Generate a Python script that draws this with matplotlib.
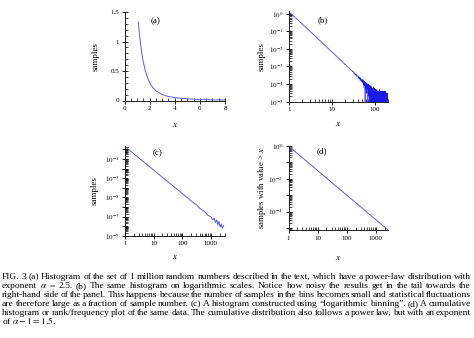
"""
Power-law histogram figure: (a) linear histogram, (b) log-log histogram,
(c) logarithmic binning, (d) cumulative distribution, plus caption.
"""

import numpy as np
import matplotlib
matplotlib.use("Agg")
import matplotlib.pyplot as plt
from matplotlib.ticker import MultipleLocator, LogLocator, NullFormatter

plt.rcParams["font.family"] = "serif"
plt.rcParams["font.serif"] = ["Liberation Serif"]
plt.rcParams["mathtext.fontset"] = "stix"

W, H = 474, 338
LINE_COLOR = "#5a5ae6"
NOISE_COLOR = "#1a1ae6"

# ── (a) histogram, linear scales ─────────────────────────────────────────────
A_X = [1.1, 1.2, 1.3, 1.4, 1.5, 1.65, 1.8, 2.0, 2.25, 2.5, 3.0, 3.5, 4.0, 5.0, 6.0, 7.0, 8.0]
A_Y = [1.33, 1.10, 0.92, 0.77, 0.65, 0.51, 0.41, 0.30, 0.22, 0.165, 0.10, 0.068, 0.048,
       0.027, 0.017, 0.011, 0.008]

# ── (b) same histogram, log scales ───────────────────────────────────────────
B_SMOOTH_X = [1, 1.5, 2, 3, 4, 6, 8, 10, 12, 15, 19]
B_SMOOTH_Y = [1.25, 0.523, 0.270, 0.106, 0.0548, 0.0216, 0.0111, 0.00667, 0.00438,
              0.00262, 0.00149]
# noisy tail: bin counts (units of 1e-5) from x = 20 to x = 200, one per unit of x
B_TAIL_START, B_TAIL_END = 20, 200
B_TAIL_COUNTS = [
    131, 126, 104, 101, 86, 84, 70, 71, 59, 60,
    49, 55, 40, 45, 33, 39, 30, 36, 26, 31,
    30, 21, 27, 19, 25, 16, 23, 15, 20, 13,
    19, 12, 18, 9, 17, 6, 15, 8, 14, 0,
    13, 5, 12, 7, 3, 11, 6, 10, 0, 9,
    4, 10, 2, 8, 5, 0, 9, 3, 7, 1,
    8, 4, 0, 7, 2, 6, 3, 0, 6, 1,
    5, 2, 7, 0, 4, 1, 6, 0, 3, 5,
    0, 4, 1, 5, 2, 0, 4, 1, 3, 0,
    5, 1, 3, 0, 4, 2, 0, 3, 1, 4,
    0, 2, 4, 0, 1, 3, 0, 5, 1, 2,
    0, 3, 1, 4, 0, 2, 0, 3, 1, 0,
    4, 1, 2, 0, 3, 0, 1, 4, 0, 2,
    1, 3, 0, 2, 0, 4, 1, 0, 3, 0,
    2, 0, 3, 1, 0, 4, 0, 2, 1, 0,
    3, 0, 1, 2, 0, 3, 0, 1, 4, 0,
    2, 0, 1, 3, 0, 2, 0, 1, 0, 3,
    0, 2, 1, 0, 3, 0, 1, 2, 0, 3,
    1,
]
B_UNIT = 1e-5

# ── (c) logarithmic binning ──────────────────────────────────────────────────
C_X = [1, 2, 4, 8, 16, 32, 64, 128, 256, 320, 400, 500, 640, 800, 1000, 1150, 1300,
       1450, 1600, 1750, 1900, 2100, 2300, 2500, 2800]
C_Y = [2.0, 0.366, 0.067, 0.0123, 2.25e-3, 4.1e-4, 7.5e-5, 1.38e-5, 2.5e-6, 1.6e-6,
       7.6e-7, 4.9e-7, 2.7e-7, 1.3e-7, 9.5e-8, 4.5e-8, 6.5e-8, 2.3e-8, 4.5e-8, 1.3e-8,
       3.2e-8, 8e-9, 1.7e-8, 6e-9, 1.1e-8]

# ── (d) cumulative distribution ──────────────────────────────────────────────
D_X = [1, 3, 10, 30, 100, 300, 1000, 2600]
D_Y = [1.0, 0.192, 0.0316, 6.09e-3, 1.0e-3, 1.92e-4, 3.16e-5, 7.5e-6]

CAPTION_LINES = [
    "FIG. 3 (a) Histogram of the set of 1 million random numbers described in the text, which have a power-law distribution with",
    "exponent $\\alpha$ = 2.5. (b) The same histogram on logarithmic scales. Notice how noisy the results get in the tail towards the",
    "right-hand side of the panel. This happens because the number of samples in the bins becomes small and statistical fluctuations",
    "are therefore large as a fraction of sample number. (c) A histogram constructed using \u201clogarithmic binning\u201d. (d) A cumulative",
    "histogram or rank/frequency plot of the same data. The cumulative distribution also follows a power law, but with an exponent",
    "of $\\alpha - 1 = 1.5$.",
]

fig = plt.figure(figsize=(W / 100, H / 100), dpi=100)


def px_axes(left, top, right, bottom):
    return fig.add_axes([left / W, 1 - bottom / H, (right - left) / W, (bottom - top) / H])


def style(ax):
    for s in ("top", "right"):
        ax.spines[s].set_visible(False)
    for s in ("left", "bottom"):
        ax.spines[s].set_linewidth(0.6)
    ax.tick_params(which="major", direction="inout", length=4, width=0.6, labelsize=5, pad=2)
    ax.tick_params(which="minor", direction="in", length=2, width=0.5)


def log_minor(axis):
    axis.set_minor_locator(LogLocator(base=10, subs=np.arange(2, 10), numticks=100))
    axis.set_minor_formatter(NullFormatter())


def pow_labels(exps, show=None):
    return [f"$10^{{{e}}}$" if (show is None or e in show) else "" for e in exps]


# ── Panel (a) ────────────────────────────────────────────────────────────────
ax_a = px_axes(124.5, 12, 225, 100.5)
ax_a.plot(A_X, A_Y, color=LINE_COLOR, lw=0.7)
ax_a.set_xlim(0, 8)
ax_a.set_ylim(0, 1.5)
ax_a.set_xticks([0, 2, 4, 6, 8], ["0", "2", "4", "6", "8"])
ax_a.set_yticks([0, 0.5, 1, 1.5], ["0", "0.5", "1", "1.5"])
ax_a.xaxis.set_minor_locator(MultipleLocator(0.5))
ax_a.yaxis.set_minor_locator(MultipleLocator(0.1))
style(ax_a)
ax_a.set_xlabel("$x$", fontsize=6.5, va="center")
ax_a.set_ylabel("samples", fontsize=6.5, va="center")
ax_a.xaxis.set_label_coords(0.5, -0.277)
ax_a.yaxis.set_label_coords(-0.29, 0.5)
ax_a.text(0.31, 0.90, "(a)", transform=ax_a.transAxes, fontsize=6.5, ha="center", va="center")

# ── Panel (b) ────────────────────────────────────────────────────────────────
ax_b = px_axes(289, 10.6, 388, 101.7)
ax_b.set_xscale("log")
ax_b.set_yscale("log", nonpositive="clip")
tail_x = np.linspace(B_TAIL_START, B_TAIL_END, len(B_TAIL_COUNTS))
tail_y = np.array(B_TAIL_COUNTS) * B_UNIT
ax_b.plot(B_SMOOTH_X + [B_TAIL_START], B_SMOOTH_Y + [tail_y[0]], color=LINE_COLOR, lw=0.7)
ax_b.plot(tail_x, tail_y, color=NOISE_COLOR, lw=0.4)
ax_b.set_xlim(1, 200)
ax_b.set_ylim(1e-5, 1.5)
ax_b.set_xticks([1, 10, 100], ["1", "10", "100"])
b_exps = [0, -1, -2, -3, -4, -5]
ax_b.set_yticks([10.0 ** e for e in b_exps], pow_labels(b_exps))
log_minor(ax_b.xaxis)
log_minor(ax_b.yaxis)
style(ax_b)
ax_b.set_xlabel("$x$", fontsize=6.5, va="center")
ax_b.set_ylabel("samples", fontsize=6.5, va="center")
ax_b.xaxis.set_label_coords(0.5, -0.245)
ax_b.yaxis.set_label_coords(-0.276, 0.5)
ax_b.text(0.34, 0.897, "(b)", transform=ax_b.transAxes, fontsize=6.5, ha="center", va="center")

# ── Panel (c) ────────────────────────────────────────────────────────────────
ax_c = px_axes(125, 146, 225, 235.7)
ax_c.set_xscale("log")
ax_c.set_yscale("log")
ax_c.plot(C_X, C_Y, color=LINE_COLOR, lw=0.7)
ax_c.set_xlim(1, 3100)
ax_c.set_ylim(1e-9, 2.3)
ax_c.set_xticks([1, 10, 100, 1000], ["1", "10", "100", "1000"])
c_exps = list(range(0, -10, -1))
ax_c.set_yticks([10.0 ** e for e in c_exps], pow_labels(c_exps, show={-1, -3, -5, -7, -9}))
log_minor(ax_c.xaxis)
log_minor(ax_c.yaxis)
style(ax_c)
ax_c.set_xlabel("$x$", fontsize=6.5, va="center")
ax_c.set_ylabel("samples", fontsize=6.5, va="center")
ax_c.xaxis.set_label_coords(0.5, -0.243)
ax_c.yaxis.set_label_coords(-0.30, 0.5)
ax_c.text(0.33, 0.925, "(c)", transform=ax_c.transAxes, fontsize=6.5, ha="center", va="center")

# ── Panel (d) ────────────────────────────────────────────────────────────────
ax_d = px_axes(288.5, 146, 388, 230)
ax_d.set_xscale("log")
ax_d.set_yscale("log")
ax_d.plot(D_X, D_Y, color=LINE_COLOR, lw=0.7)
ax_d.set_xlim(1, 2600)
ax_d.set_ylim(7.5e-6, 1.0)
ax_d.set_xticks([1, 10, 100, 1000], ["1", "10", "100", "1000"])
d_exps = [0, -1, -2, -3, -4, -5]
ax_d.set_yticks([10.0 ** e for e in d_exps], pow_labels(d_exps, show={0, -2, -4}))
log_minor(ax_d.xaxis)
log_minor(ax_d.yaxis)
style(ax_d)
ax_d.set_xlabel("$x$", fontsize=6.5, va="center")
ax_d.set_ylabel("samples with value > $x$", fontsize=6.3, va="center")
ax_d.xaxis.set_label_coords(0.5, -0.333)
ax_d.yaxis.set_label_coords(-0.266, 0.5)
ax_d.text(0.34, 0.944, "(d)", transform=ax_d.transAxes, fontsize=6.5, ha="center", va="center")

# ── Caption (justified lines) ────────────────────────────────────────────────
CAP_TOP, CAP_STEP, CAP_SIZE = 279, 8.9, 6.8
x_left, x_right = 2 / W, 471 / W
renderer = fig.canvas.get_renderer()
for i, line in enumerate(CAPTION_LINES):
    y = 1 - (CAP_TOP + i * CAP_STEP) / H
    if i == len(CAPTION_LINES) - 1:
        fig.text(x_left, y, line, fontsize=CAP_SIZE, va="baseline", ha="left")
        continue
    words = line.split(" ")
    texts = [fig.text(0, y, w, fontsize=CAP_SIZE, va="baseline", ha="left") for w in words]
    widths = [t.get_window_extent(renderer).width / W for t in texts]
    gap = (x_right - x_left - sum(widths)) / (len(words) - 1)
    pos = x_left
    for t, w in zip(texts, widths):
        t.set_x(pos)
        pos += w + gap

fig.savefig("out.png", dpi=100)
